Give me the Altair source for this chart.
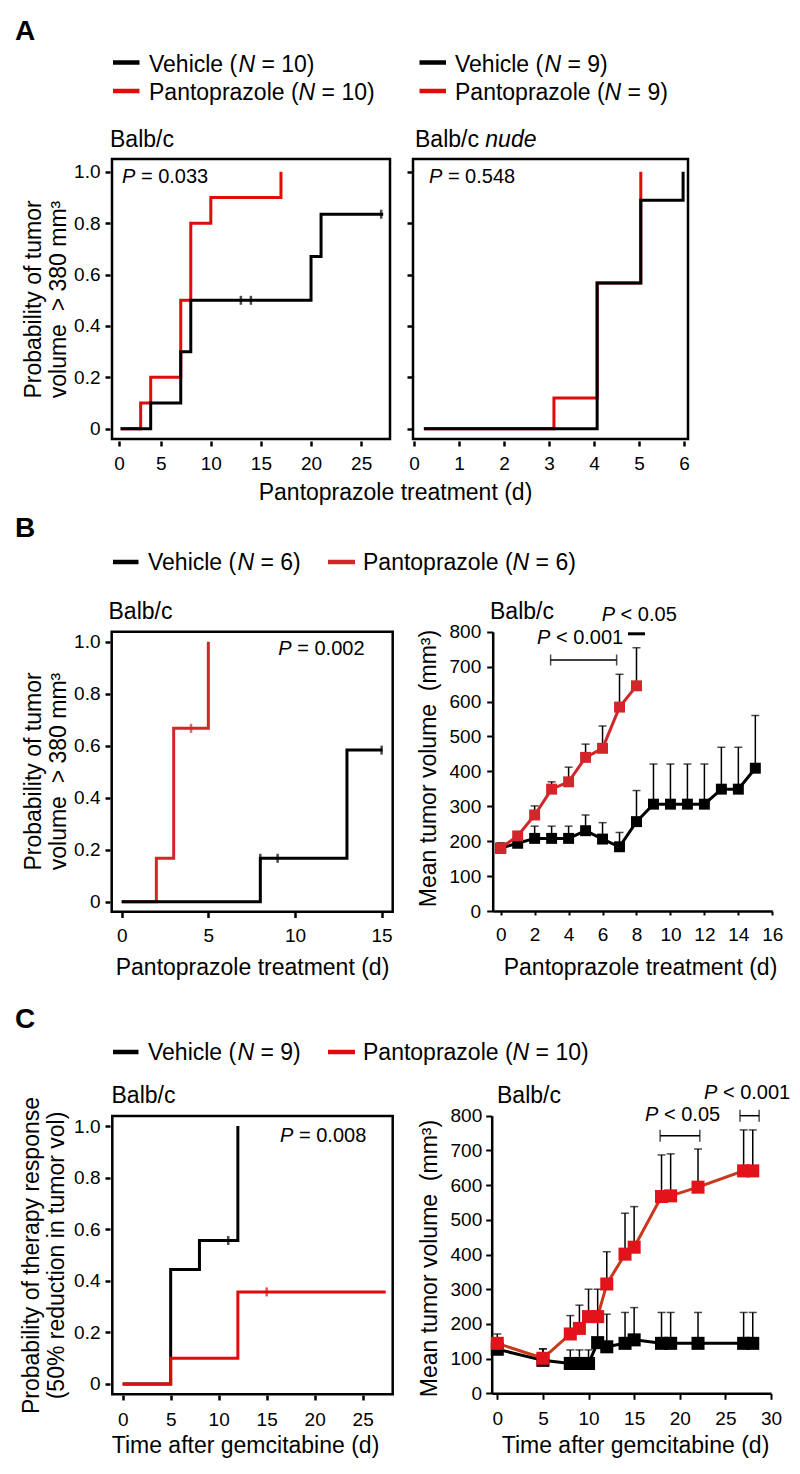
import altair as alt
import pandas as pd

M = 8
W, H = 784, 1458
FONT = "Liberation Sans"
RED_A = "#e20a0a"
RED_B = "#d2262b"
RED_CL = "#c8391c"
RED_CS = "#e2131a"

# ---------------- data ----------------
# A, Balb/c
a1_veh_day = [1, 4, 7, 8, 20, 21, 27.2]
a1_veh_p = [0, 0.1, 0.3, 0.5, 0.67, 0.835, 0.835]
a1_veh_cens_day = [13, 14, 27]
a1_veh_cens_p = [0.5, 0.5, 0.835]
a1_pan_day = [1, 3, 4, 7, 8, 10, 17]
a1_pan_p = [0, 0.1, 0.2, 0.5, 0.8, 0.9, 1.0]
# A, Balb/c nude
a2_veh_day = [0.22, 4.07, 5.04, 5.98]
a2_veh_p = [0, 0.567, 0.889, 1.0]
a2_pan_day = [0.22, 3.11, 4.07, 5.04, 5.04]
a2_pan_p = [0, 0.12, 0.567, 0.889, 1.0]
# B, KM
b1_veh_day = [0, 8, 13, 15.05]
b1_veh_p = [0, 0.167, 0.583, 0.583]
b1_veh_cens_day = [8, 9, 15]
b1_veh_cens_p = [0.167, 0.167, 0.583]
b1_pan_day = [0, 2, 3, 5]
b1_pan_p = [0, 0.167, 0.667, 1.0]
b1_pan_cens_day = [4]
b1_pan_cens_p = [0.667]
# B, tumor volume
b2_veh_day = [0, 1, 2, 3, 4, 5, 6, 7, 8, 9, 10, 11, 12, 13, 14, 15]
b2_veh_mean = [180, 194, 208, 208, 208, 230, 206, 184, 256, 306, 306, 306, 306, 349, 349, 409]
b2_veh_upper = [195, 222, 243, 243, 243, 275, 253, 225, 345, 421, 421, 421, 421, 469, 469, 560]
b2_pan_day = [0, 1, 2, 3, 4, 5, 6, 7, 8]
b2_pan_mean = [180, 215, 275, 349, 370, 440, 466, 584, 645]
b2_pan_upper = [185, 225, 301, 370, 412, 478, 530, 678, 754]
# C, KM
c1_veh_day = [0, 5, 8, 12]
c1_veh_p = [0, 0.444, 0.556, 1.0]
c1_veh_cens_day = [11]
c1_veh_cens_p = [0.556]
c1_pan_day = [0, 5, 12, 27.4]
c1_pan_p = [0, 0.1, 0.357, 0.357]
c1_pan_cens_day = [15]
c1_pan_cens_p = [0.357]
# C, tumor volume
c2_day = [0, 5, 8, 9, 10, 11, 12, 14, 15, 18, 19, 22, 27, 28]
c2_veh_mean = [127, 95, 86, 86, 86, 146, 134, 144, 154, 144, 144, 144, 144, 144]
c2_veh_upper = [171, 128, 125, 125, 125, 228, 228, 233, 247, 233, 233, 233, 233, 233]
c2_pan_mean = [144, 101, 171, 187, 221, 221, 315, 401, 421, 567, 569, 594, 641, 641]
c2_pan_upper = [150, 128, 224, 254, 300, 300, 408, 519, 538, 687, 690, 704, 759, 759]

# ---------------- helpers ----------------
AW = {' ': 278, '(': 333, ')': 333, '<': 584, '=': 584, '>': 584, '.': 278, '/': 278, '%': 889,
      '³': 333, 'A': 667, 'B': 667, 'C': 722, 'M': 833, 'N': 722, 'P': 667, 'T': 611, 'V': 667,
      'a': 556, 'b': 556, 'c': 500, 'd': 556, 'e': 556, 'f': 278, 'g': 556, 'h': 556, 'i': 222,
      'l': 222, 'm': 833, 'n': 556, 'o': 556, 'p': 556, 'r': 333, 's': 500, 't': 278, 'u': 556,
      'v': 500, 'y': 500, 'z': 500}
NB = "\u00a0"


def tw(s, size):
    return sum(AW.get(c, 556) for c in s) / 1000.0 * size


def sc(dom, rng):
    return alt.Scale(domain=list(dom), range=[r - M for r in rng], nice=False, zero=False)


def pts(xs, ys):
    return pd.DataFrame({"x": xs, "y": ys, "i": list(range(len(xs)))})


def step(xs, ys, color, sx, sy, w=3.0):
    return alt.Chart(pts(xs, ys)).mark_line(interpolate="step-after", color=color, strokeWidth=w).encode(
        x=alt.X("x:Q", scale=sx, axis=None), y=alt.Y("y:Q", scale=sy, axis=None), order="i:Q")


def cens(xs, ys, color, sx, sy):
    return alt.Chart(pts(xs, ys)).mark_tick(orient="vertical", color=color, size=9, thickness=2.5).encode(
        x=alt.X("x:Q", scale=sx, axis=None), y=alt.Y("y:Q", scale=sy, axis=None))


def frame(xdom, ydom, sx, sy, xaxis, yaxis):
    df = pd.DataFrame({"x": [xdom[0]], "x2": [xdom[1]], "y": [ydom[0]], "y2": [ydom[1]]})
    return alt.Chart(df).mark_rect(fillOpacity=0, stroke="black", strokeWidth=2.5).encode(
        x=alt.X("x:Q", scale=sx, axis=xaxis), x2="x2:Q",
        y=alt.Y("y:Q", scale=sy, axis=yaxis), y2="y2:Q")


def dtext(segs, x, y, sx, sy, size=20, baseline="middle"):
    out, off = [], 0.0
    for s, it in segs:
        lead = len(s) - len(s.lstrip(" "))
        off += tw(" " * lead, size)
        s2 = s.lstrip(" ")
        df = pd.DataFrame({"x": [x], "y": [y], "t": [s2]})
        out.append(alt.Chart(df).mark_text(align="left", baseline=baseline, font=FONT, fontSize=size,
                                           fontStyle="italic" if it else "normal", color="black", dx=off).encode(
            x=alt.X("x:Q", scale=sx, axis=None), y=alt.Y("y:Q", scale=sy, axis=None), text="t:N"))
        off += tw(s2, size)
    return out


def ptext(segs, x, y, size=23, weight="normal"):
    out, off = [], 0.0
    for s, it in segs:
        lead = len(s) - len(s.lstrip(" "))
        off += tw(" " * lead, size)
        s2 = s.lstrip(" ")
        df = pd.DataFrame({"t": [s2]})
        out.append(alt.Chart(df).mark_text(align="left", baseline="alphabetic", font=FONT, fontSize=size,
                                           fontStyle="italic" if it else "normal", fontWeight=weight,
                                           color="black").encode(
            x=alt.value(x - M + off), y=alt.value(y - M), text="t:N"))
        off += tw(s2, size)
    return out


def pline(x1, x2, y, color, w=4.5):
    return alt.Chart(pd.DataFrame({"a": [0]})).mark_rule(color=color, strokeWidth=w).encode(
        x=alt.value(x1 - M), x2=alt.value(x2 - M), y=alt.value(y - M))


def bracket(x1, x2, y, sx, sy, cap, w=1.5):
    df = pd.DataFrame({"x": [x1], "x2": [x2], "y": [y]})
    r = alt.Chart(df).mark_rule(color="black", strokeWidth=w).encode(
        x=alt.X("x:Q", scale=sx, axis=None), x2="x2:Q", y=alt.Y("y:Q", scale=sy, axis=None))
    out = [r]
    if cap > 0:
        e = alt.Chart(pd.DataFrame({"x": [x1, x2], "y": [y, y]})).mark_tick(
            orient="vertical", size=cap, thickness=w, color="black").encode(
            x=alt.X("x:Q", scale=sx, axis=None), y=alt.Y("y:Q", scale=sy, axis=None))
        out.append(e)
    return out


def vol(days, mean, upper, lcolor, scolor, sx, sy, ssize, xaxis=None, yaxis=None):
    df = pd.DataFrame({"x": days, "y": mean, "u": upper})
    base = alt.Chart(df)
    err = base.mark_rule(color="black", strokeWidth=1.5).encode(
        x=alt.X("x:Q", scale=sx, axis=None), y=alt.Y("y:Q", scale=sy, axis=None), y2="u:Q")
    capm = base.mark_tick(orient="horizontal", color="black", size=8, thickness=1.5).encode(
        x=alt.X("x:Q", scale=sx, axis=None), y=alt.Y("u:Q", scale=sy, axis=None))
    line = base.mark_line(color=lcolor, strokeWidth=3).encode(
        x=alt.X("x:Q", scale=sx, axis=xaxis), y=alt.Y("y:Q", scale=sy, axis=yaxis))
    sq = base.mark_square(color=scolor, size=ssize, opacity=1).encode(
        x=alt.X("x:Q", scale=sx, axis=None), y=alt.Y("y:Q", scale=sy, axis=None))
    return [err, capm, line, sq]


KM_Y = [0, 0.2, 0.4, 0.6, 0.8, 1.0]
KM_LAB = "datum.value == 0 ? '0' : format(datum.value, '.1f')"


def km_yaxis(axis_x, title=None, tx=0, ty=0, labels=True):
    kw = dict(orient="left", offset=-(axis_x - M), values=KM_Y, tickSize=5, tickWidth=2.5,
              domain=False, grid=False, labelFontSize=19, labelPadding=5, labelOverlap=False)
    if labels:
        kw.update(labelExpr=KM_LAB, title=title, titleX=tx - axis_x, titleY=ty - M, titleAngle=270,
                  titleAlign="center", titleBaseline="middle", titleFontSize=23, titleLineHeight=25)
    else:
        kw.update(labels=False, title=None)
    return alt.Axis(**kw)


def xaxis(axis_y, values, tick=5, pad=8, title=None, tx=0, ty=0, domain=False, expr=None, tickw=2.5):
    kw = dict(orient="bottom", offset=axis_y - M - H, values=values, tickSize=tick, tickWidth=tickw,
              domain=domain, grid=False, labelFontSize=19, labelPadding=pad, labelFlush=False,
              labelOverlap=False)
    if domain:
        kw.update(domainWidth=2.5)
    if expr:
        kw.update(labelExpr=expr)
    if title:
        kw.update(title=title, titleX=tx - M, titleY=ty - axis_y, titleAlign="center",
                  titleBaseline="middle", titleFontSize=23)
    else:
        kw.update(title=None)
    return alt.Axis(**kw)


KM_TITLE_AB = ["Probability of tumor", "volume" + NB + " > 380 mm³"]
KM_TITLE_C = ["Probability of therapy response", "(50% reduction in tumor vol)"]
VOL_TITLE = "Mean tumor volume" + NB + " (mm³)"

layers = []

# ---------------- Panel A left ----------------
xd, yd = [0.14, 27.88], [-0.04, 1.05]
sx, sy = sc(xd, [112, 390]), sc(yd, [439, 159])
layers += [frame(xd, yd, sx, sy,
                 xaxis(441, [0.85, 5, 10, 15, 20, 25], 5, 8, "Pantoprazole treatment (d)", 395, 492,
                       expr="datum.value < 1 ? '0' : datum.label"),
                 km_yaxis(110, KM_TITLE_AB, 33, 299)),
           step(a1_pan_day, a1_pan_p, RED_A, sx, sy),
           step(a1_veh_day, a1_veh_p, "black", sx, sy),
           cens(a1_veh_cens_day, a1_veh_cens_p, "black", sx, sy)]
layers += dtext([("P", True), (" = 0.033", False)], 1.14, 0.981, sx, sy)

# ---------------- Panel A right ----------------
xd, yd = [-0.022, 6.089], [-0.04, 1.05]
sx, sy = sc(xd, [413, 688]), sc(yd, [439, 159])
layers += [frame(xd, yd, sx, sy, xaxis(441, [0, 1, 2, 3, 4, 5, 6], 5, 8), km_yaxis(412, labels=False)),
           step(a2_pan_day, a2_pan_p, RED_A, sx, sy),
           step(a2_veh_day, a2_veh_p, "black", sx, sy)]
layers += dtext([("P", True), (" = 0.548", False)], 0.333, 0.981, sx, sy)

# ---------------- Panel B left ----------------
xd, yd = [-0.577, 15.64], [-0.0385, 1.0385]
sx, sy = sc(xd, [111.7, 392.7]), sc(yd, [911.7, 631.7])
layers += [frame(xd, yd, sx, sy,
                 xaxis(912.5, [0, 5, 10, 15], 5, 9, "Pantoprazole treatment (d)", 252, 967),
                 km_yaxis(110, KM_TITLE_AB, 33, 771)),
           step(b1_pan_day, b1_pan_p, RED_B, sx, sy),
           cens(b1_pan_cens_day, b1_pan_cens_p, RED_B, sx, sy),
           step(b1_veh_day, b1_veh_p, "black", sx, sy),
           cens(b1_veh_cens_day, b1_veh_cens_p, "black", sx, sy)]
layers += dtext([("P", True), (" = 0.002", False)], 9.04, 0.971, sx, sy)

# ---------------- Panel B right ----------------
xd, yd = [-0.471, 16], [0, 800]
sx, sy = sc(xd, [492.7, 772.3]), sc(yd, [911, 631.7])
bx = xaxis(911, list(range(0, 17, 2)), 4, 10, "Pantoprazole treatment (d)", 640, 967, domain=True, tickw=2)
by = alt.Axis(orient="left", offset=-(492.7 - M), values=list(range(0, 801, 100)), tickSize=6, tickWidth=2,
              domain=True, domainWidth=2.5, grid=False, labelFontSize=19, labelPadding=6, labelOverlap=False,
              title=VOL_TITLE, titleX=428 - 492.7, titleY=768 - M, titleAngle=270,
              titleAlign="center", titleBaseline="middle", titleFontSize=23)
layers += vol(b2_veh_day, b2_veh_mean, b2_veh_upper, "black", "black", sx, sy, 120, bx, by)
layers += vol(b2_pan_day, b2_pan_mean, b2_pan_upper, RED_B, RED_B, sx, sy, 120)
layers += bracket(2.94, 6.83, 719, sx, sy, 11)
layers += bracket(7.5, 8.5, 794, sx, sy, 0, w=3)
layers += dtext([("P", True), (" < 0.001", False)], 2.14, 782, sx, sy)
layers += dtext([("P", True), (" < 0.05", False)], 5.95, 848, sx, sy)

# ---------------- Panel C left ----------------
xd, yd = [-1.08, 28.13], [-0.04, 1.0388]
sx, sy = sc(xd, [112.3, 392.7]), sc(yd, [1394.3, 1116])
layers += [frame(xd, yd, sx, sy,
                 xaxis(1395, [0, 5, 10, 15, 20, 25], 5, 10, "Time after gemcitabine (d)", 245, 1445),
                 km_yaxis(110, KM_TITLE_C, 31, 1255)),
           step(c1_veh_day, c1_veh_p, "black", sx, sy),
           cens(c1_veh_cens_day, c1_veh_cens_p, "black", sx, sy),
           step(c1_pan_day, c1_pan_p, RED_A, sx, sy),
           cens(c1_pan_cens_day, c1_pan_cens_p, RED_A, sx, sy)]
layers += dtext([("P", True), (" = 0.008", False)], 16.4, 0.961, sx, sy)

# ---------------- Panel C right ----------------
xd, yd = [-0.614, 30], [0, 800]
sx, sy = sc(xd, [491.7, 771]), sc(yd, [1393.3, 1115.7])
cx = xaxis(1393.3, list(range(0, 31, 5)), 6, 10.5, "Time after gemcitabine (d)", 635, 1445, domain=True, tickw=2)
cy = alt.Axis(orient="left", offset=-(491.7 - M), values=list(range(0, 801, 100)), tickSize=6, tickWidth=2,
              domain=True, domainWidth=2.5, grid=False, labelFontSize=19, labelPadding=4, labelOverlap=False,
              title=VOL_TITLE, titleX=429 - 491.7, titleY=1258 - M, titleAngle=270,
              titleAlign="center", titleBaseline="middle", titleFontSize=23)
layers += vol(c2_day, c2_veh_mean, c2_veh_upper, "black", "black", sx, sy, 170, cx, cy)
layers += vol(c2_day, c2_pan_mean, c2_pan_upper, RED_CL, RED_CS, sx, sy, 170)
layers += bracket(17.85, 22.2, 742, sx, sy, 12)
layers += bracket(26.6, 28.7, 800, sx, sy, 12)
layers += dtext([("P", True), (" < 0.05", False)], 16.2, 802, sx, sy)
layers += dtext([("P", True), (" < 0.001", False)], 22.66, 866, sx, sy)

# ---------------- letters, legends, panel titles ----------------
ann = []
ann += ptext([("A", False)], 15, 40, 28, "bold")
ann += ptext([("B", False)], 15, 537, 28, "bold")
ann += ptext([("C", False)], 15, 1028, 28, "bold")
# legend A
ann.append(pline(113, 139.5, 62.5, "black"))
ann += ptext([("Vehicle (", False), ("N", True), (" = 10)", False)], 149, 71.5)
ann.append(pline(113, 139.5, 91, RED_A))
ann += ptext([("Pantoprazole (", False), ("N", True), (" = 10)", False)], 149, 100)
ann.append(pline(419.5, 446, 62.5, "black"))
ann += ptext([("Vehicle (", False), ("N", True), (" = 9)", False)], 455, 71.5)
ann.append(pline(419.5, 446, 91, RED_A))
ann += ptext([("Pantoprazole (", False), ("N", True), (" = 9)", False)], 455, 100)
# legend B
ann.append(pline(113, 138.5, 562, "black"))
ann += ptext([("Vehicle (", False), ("N", True), (" = 6)", False)], 148, 570)
ann.append(pline(328, 355, 562, RED_B))
ann += ptext([("Pantoprazole (", False), ("N", True), (" = 6)", False)], 363, 570)
# legend C
ann.append(pline(113, 138.5, 1052, "black"))
ann += ptext([("Vehicle (", False), ("N", True), (" = 9)", False)], 148, 1060)
ann.append(pline(328, 355, 1052, RED_A))
ann += ptext([("Pantoprazole (", False), ("N", True), (" = 10)", False)], 363, 1060)
# panel titles
ann += ptext([("Balb/c", False)], 110, 147)
ann += ptext([("Balb/c ", False), ("nude", True)], 415, 147)
ann += ptext([("Balb/c", False)], 108.5, 618.5)
ann += ptext([("Balb/c", False)], 490, 619)
ann += ptext([("Balb/c", False)], 111.5, 1103)
ann += ptext([("Balb/c", False)], 497, 1103)
layers += ann

chart = alt.layer(*layers).resolve_scale(x="independent", y="independent").resolve_axis(
    x="independent", y="independent").properties(
    width=W, height=H, autosize=alt.AutoSizeParams(type="none"), padding=0
).configure_view(strokeWidth=0).configure_axis(
    labelFont=FONT, titleFont=FONT, labelColor="black", titleColor="black", tickColor="black",
    domainColor="black", titleFontWeight="normal"
)

chart.save("out.html", embed_options={"renderer": "svg", "actions": False})
